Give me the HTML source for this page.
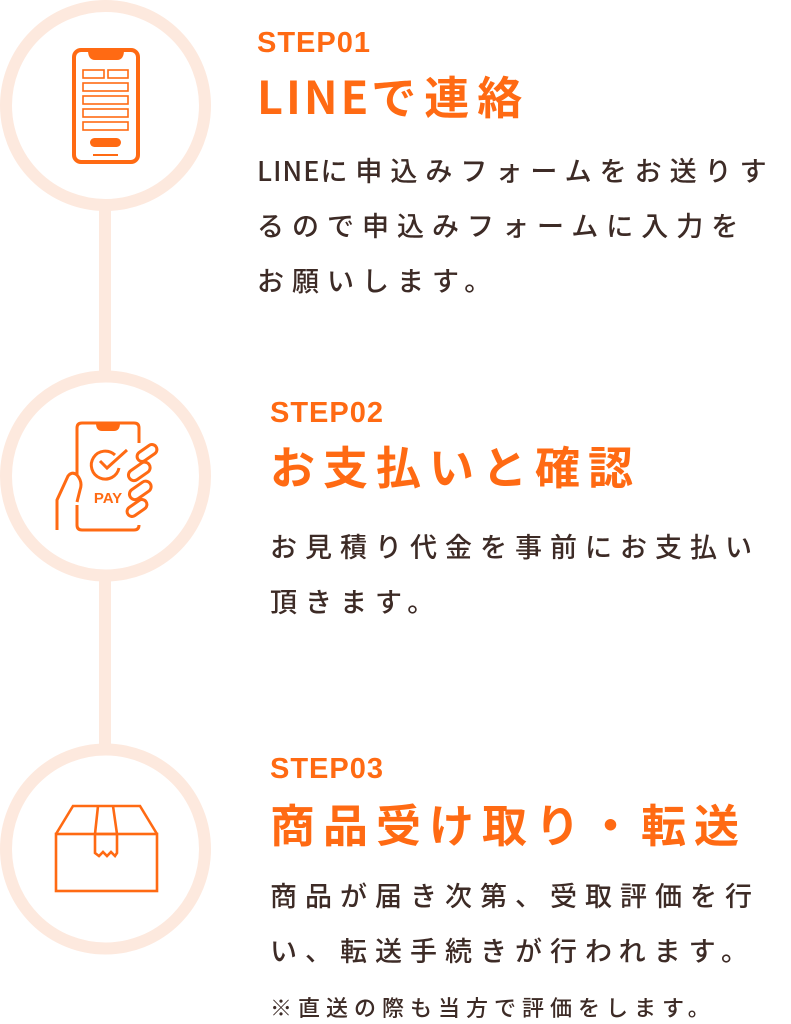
<!DOCTYPE html>
<html><head><meta charset="utf-8"><style>
html,body{margin:0;padding:0;background:#fff;width:791px;height:1024px;overflow:hidden;position:relative}
.t{position:absolute;white-space:nowrap;font-family:"Liberation Sans","Noto Sans CJK JP",sans-serif}
.step{color:#ff6a13;font-size:29px;font-weight:bold;line-height:30px;letter-spacing:1px}
.ttl{color:#ff6a13;font-size:45px;font-weight:bold;line-height:50px;letter-spacing:8px;font-family:"Noto Sans CJK JP",sans-serif}
.body{color:#3d2b26;font-size:27px;font-weight:500;line-height:55px;letter-spacing:8px;font-family:"Noto Sans CJK JP",sans-serif}
.note{color:#3d2b26;font-size:22px;font-weight:500;line-height:30px;letter-spacing:6px;font-family:"Noto Sans CJK JP",sans-serif}
.l{letter-spacing:1px}
.l3{letter-spacing:3px}
</style></head><body>
<svg width="791" height="1024" style="position:absolute;left:0;top:0">
<g fill="none" stroke="#fde9de">
<rect x="99" y="200" width="12" height="180" fill="#fde9de" stroke="none"/>
<rect x="99" y="570" width="12" height="180" fill="#fde9de" stroke="none"/>
<circle cx="105.5" cy="105.5" r="99.5" stroke-width="12"/>
<circle cx="105.5" cy="476" r="99.5" stroke-width="12"/>
<circle cx="105.5" cy="849" r="99.5" stroke-width="12"/>
</g>
<g fill="none" stroke="#ff6a13">
<rect x="74" y="50" width="64" height="112" rx="7" stroke-width="4"/>
<path d="M88 50 Q88 60 95 60 L117 60 Q124 60 124 50 Z" fill="#ff6a13" stroke="none"/>
<g stroke-width="1.6">
<rect x="83" y="70" width="21" height="8"/><rect x="108" y="70" width="20" height="8"/>
<rect x="83" y="83" width="45" height="8"/><rect x="83" y="96" width="45" height="8"/>
<rect x="83" y="109" width="45" height="8"/><rect x="83" y="122" width="45" height="8"/>
</g>
<rect x="90" y="138" width="31" height="9" rx="4.5" fill="#ff6a13" stroke="none"/>
<line x1="93" y1="155" x2="118" y2="155" stroke-width="2"/>
<path d="M77 475 L77 428 Q77 423 82 423 L134 423 Q139 423 139 428 L139 443 M139 525 Q139 530 134 530 L82 530 Q77 530 77 525 L77 505" stroke-width="3"/>
<path d="M96 423 Q96 431 102 431 L114 431 Q120 431 120 423 Z" fill="#ff6a13" stroke="none"/>
<path d="M57 530 L57 500 L68 476 Q72 471 77 475 Q83 482 80 490 L77 502" stroke-width="3"/>
<path d="M115 455 A14 14 0 1 0 119 468" stroke-width="3"/>
<path d="M100 461 L107 468 L127 450" stroke-width="3"/>
<g stroke-width="3">
<rect x="136" y="448" width="22" height="10" rx="5" transform="rotate(-35 147 453)"/>
<rect x="127" y="466" width="24" height="11" rx="5.5" transform="rotate(-35 139 471)"/>
<rect x="128" y="485" width="24" height="11" rx="5.5" transform="rotate(-35 140 490)"/>
<rect x="126" y="503" width="22" height="10" rx="5" transform="rotate(-35 137 508)"/>
</g>
<g stroke-width="2.6" stroke-linejoin="miter">
<rect x="56" y="834" width="101" height="57"/>
<path d="M56 834 L73 806 L140 806 L157 834"/>
<path d="M98 806 L95 834 L95 853 L99 856 L103 852 L107 856 L111 852 L115 856 L117 853 L117 834 L113 806"/>
<line x1="95" y1="834" x2="117" y2="834"/>
</g>
</g>
<text x="108" y="503" fill="#ff6a13" font-family="Liberation Sans,sans-serif" font-weight="bold" font-size="15" text-anchor="middle">PAY</text>
</svg>

<div class="t step" style="left:257px;top:28px">STEP01</div>
<div class="t ttl" style="left:257px;top:70px"><span class="l3">LINE</span>で連絡</div>
<div class="t body" style="left:257px;top:142px"><span class="l">LINE</span>に申込みフォームをお送りす<br>るので申込みフォームに入力を<br>お願いします。</div>

<div class="t step" style="left:270px;top:398px">STEP02</div>
<div class="t ttl" style="left:270px;top:440px">お支払いと確認</div>
<div class="t body" style="left:270px;top:518px">お見積り代金を事前にお支払い<br>頂きます。</div>

<div class="t step" style="left:270px;top:754px">STEP03</div>
<div class="t ttl" style="left:270px;top:798px">商品受け取り・転送</div>
<div class="t body" style="left:270px;top:867px">商品が届き次第、受取評価を行<br>い、転送手続きが行われます。</div>
<div class="t note" style="left:270px;top:992px">※直送の際も当方で評価をします。</div>
</body></html>
